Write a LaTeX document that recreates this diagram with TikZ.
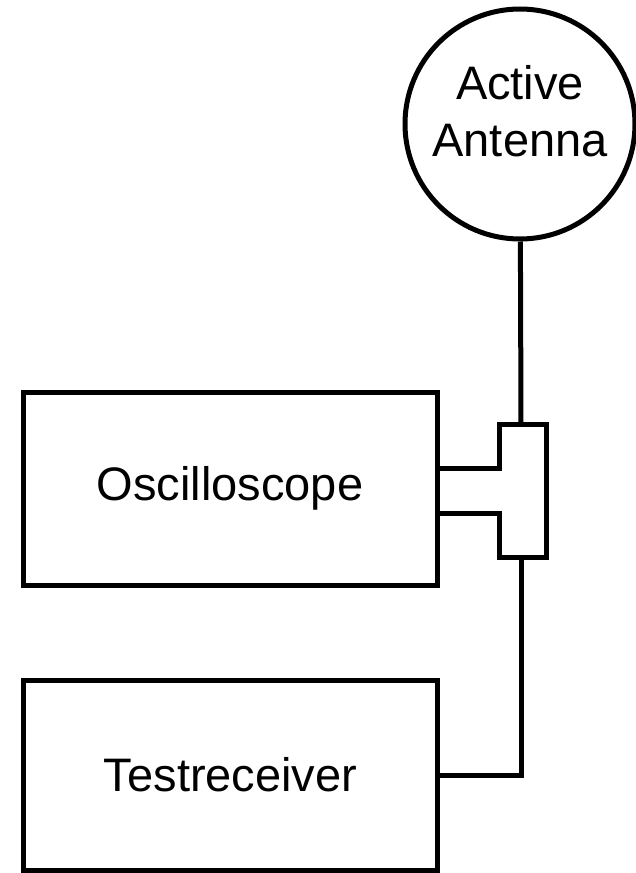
\documentclass[tikz,border=0pt]{standalone}
\usepackage{fontspec}
\setmainfont{Liberation Sans}
\usepackage{tikz}

\begin{document}
\begin{tikzpicture}[x=1pt, y=-1pt, line width=5pt,
    caja/.style={draw, rectangle, minimum width=414pt, inner sep=0pt,
        font=\fontsize{47}{57}\selectfont},
    antena/.style={draw, circle, minimum size=230pt, inner sep=0pt}]
    \useasboundingbox (0,0) rectangle (636,873);

    % Antena activa
    \node[antena] (ant) at (520,124) {};
    \node[font=\fontsize{47}{57}\selectfont, align=center] (antxt)
        at ([yshift=13pt]ant.center) {Active\\Antenna};

    % Equipos
    \node[caja, minimum height=193pt] (osc) at (230,488.5) {Oscilloscope};
    \node[caja, minimum height=190pt] (rx) at (230.5,775) {Testreceiver};

    % Pieza en T
    \coordinate (tsup) at (521,424);
    \coordinate (tinf) at (521,557);
    \draw (osc.east |- 0,468) -- (499,468) -- (499,424) -- (546,424)
        -- (546,557) -- (499,557) -- (499,513) -- (osc.east |- 0,513);

    % Cables
    \draw (ant) -- (tsup);
    \draw (tinf) |- (rx.east);
\end{tikzpicture}
\end{document}
